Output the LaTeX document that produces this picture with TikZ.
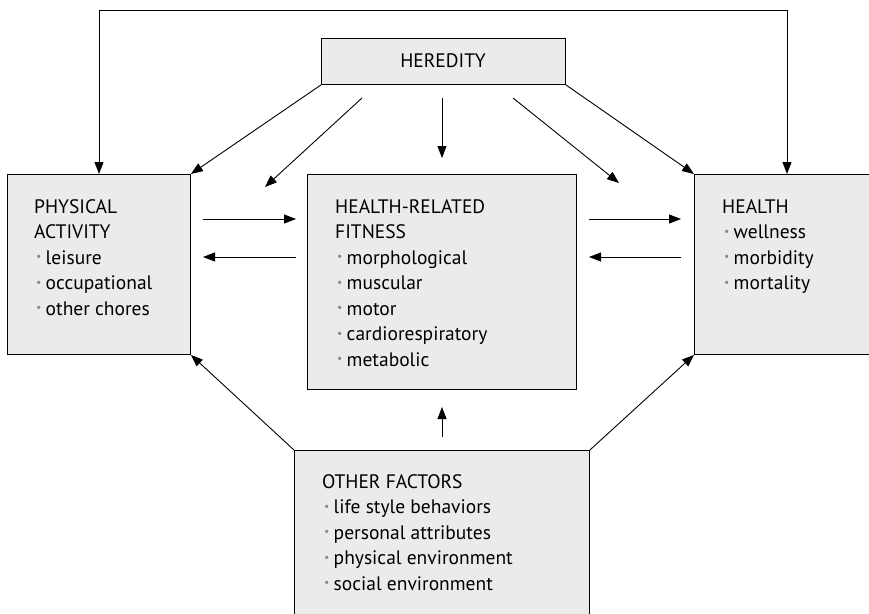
\documentclass[tikz,border=0pt]{standalone}
\usepackage{fontspec}
\usepackage{graphicx}
\setmainfont{PT Sans}
\usetikzlibrary{arrows.meta}
\definecolor{boxfill}{HTML}{EBEBEB}
\definecolor{bulgray}{HTML}{8A8A8A}
\newcommand{\bl}{\hspace{0.1em}{\color{bulgray}\raisebox{0.18em}{\scalebox{0.6}{\textbullet}}}\hspace{0.22em}}
\tikzset{
  box/.style={draw=black, line width=0.9pt, fill=boxfill, anchor=north west, inner sep=0pt},
  lbl/.style={anchor=north west, inner sep=0pt, align=left, font=\fontsize{19.5}{25.5}\selectfont},
  arr/.style={line width=0.9pt, -{Triangle[length=12pt,width=9pt]}},
  darr/.style={line width=0.9pt, {Triangle[length=12pt,width=9pt]}-{Triangle[length=12pt,width=9pt]}}
}
\begin{document}
\begin{tikzpicture}[x=1pt,y=-1pt]
\useasboundingbox (0,0) rectangle (869,613);
\clip (0,0) rectangle (869,613);
% boxes
\node[box, minimum width=244pt, minimum height=46pt] (her) at (321,38) {};
\node[box, minimum width=183pt, minimum height=180pt] (pa) at (7,174) {};
\node[box, minimum width=269pt, minimum height=215pt] (hrf) at (307,174) {};
\node[box, minimum width=200pt, minimum height=180pt] (hl) at (694,174) {};
\node[box, minimum width=295pt, minimum height=190pt] (of) at (294,450) {};
% texts
\node[inner sep=0pt, font=\fontsize{19.5}{25.5}\selectfont] (hert) at (443,61) {HEREDITY};
\node[lbl] (pat) at (34,199) {PHYSICAL\\ACTIVITY\\\bl leisure\\\bl occupational\\\bl other chores};
\node[lbl] (hrft) at (335,199) {HEALTH-RELATED\\FITNESS\\\bl morphological\\\bl muscular\\\bl motor\\\bl cardiorespiratory\\\bl metabolic};
\node[lbl] (hlt) at (722,199) {HEALTH\\\bl wellness\\\bl morbidity\\\bl mortality};
\node[lbl] (oft) at (322,474) {OTHER FACTORS\\\bl life style behaviors\\\bl personal attributes\\\bl physical environment\\\bl social environment};
% free ends
\coordinate (tl) at (99,10);
\coordinate (tr) at (787,10);
\coordinate (s1) at (362,98);
\coordinate (e1) at (265,187);
\coordinate (s2) at (513,98);
\coordinate (e2) at (619,183);
\coordinate (s3) at (442,98);
\coordinate (e3) at (442,158);
\coordinate (a1) at (203,219);
\coordinate (a2) at (296,219);
\coordinate (b1) at (296,257);
\coordinate (b2) at (203,257);
\coordinate (c1) at (589,219);
\coordinate (c2) at (681,219);
\coordinate (d1) at (681,257);
\coordinate (d2) at (589,257);
\coordinate (u1) at (442,437);
\coordinate (u2) at (442,407);
% connectors
\draw[darr] (pa.north -| tl) -- (tl) -- (tr) -- (hl.north -| tr);
\draw[arr] (her.south west) -- (pa.north east);
\draw[arr] (her.south east) -- (hl.north west);
\draw[arr] (s1) -- (e1);
\draw[arr] (s2) -- (e2);
\draw[arr] (s3) -- (e3);
\draw[arr] (a1) -- (a2);
\draw[arr] (b1) -- (b2);
\draw[arr] (c1) -- (c2);
\draw[arr] (d1) -- (d2);
\draw[arr] (u1) -- (u2);
\draw[arr] (of.north west) -- (pa.south east);
\draw[arr] (of.north east) -- (hl.south west);
\end{tikzpicture}
\end{document}
